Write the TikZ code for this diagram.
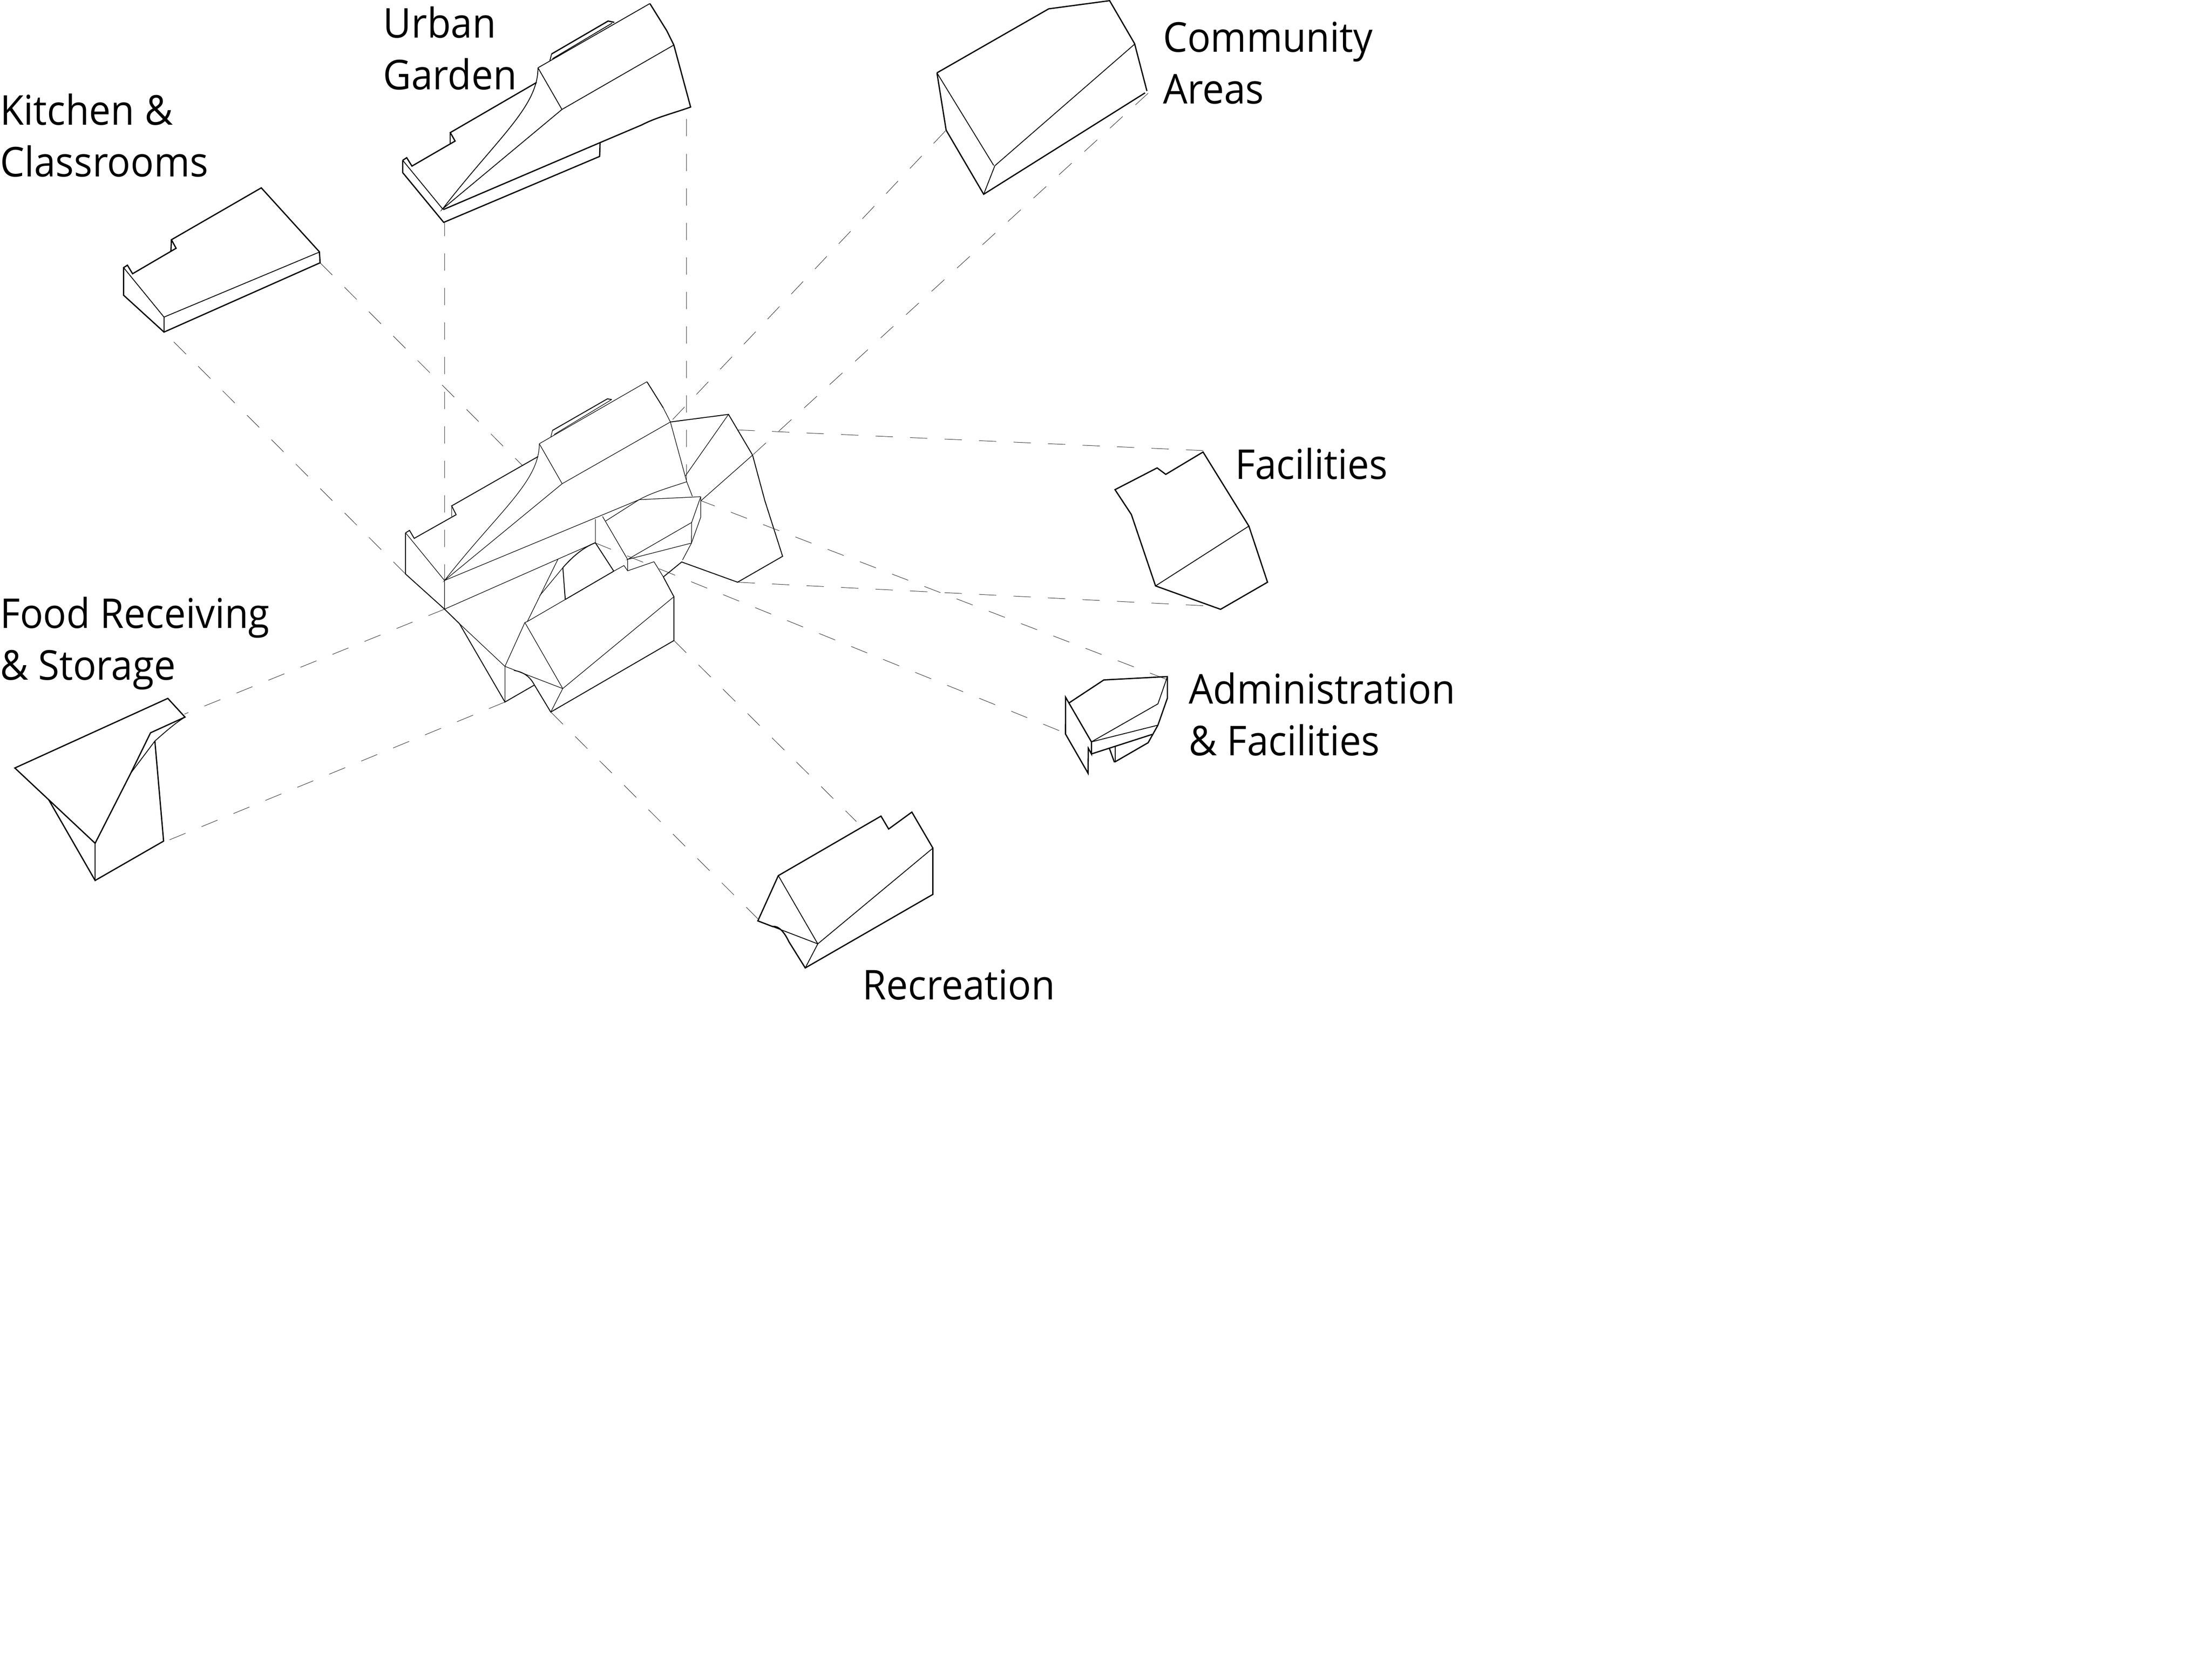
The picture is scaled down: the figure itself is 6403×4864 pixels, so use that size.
\documentclass[tikz,border=0pt]{standalone}
\usepackage{fontspec}
\setmainfont[FakeStretch=0.94]{Open Sans}
\tikzset{
  x=0.1pt,y=-0.1pt,
  heavy/.style={line width=0.36pt,line join=miter,draw=black},
  light/.style={line width=0.24pt,line join=miter,draw=black},
  mheavy/.style={line width=0.26pt,line join=miter,draw=black},
  mlight/.style={line width=0.16pt,line join=miter,draw=black},
  conn/.style={line width=0.13pt,draw=black!80,dash pattern=on 5pt off 5pt},
  lab/.style={font=\fontsize{11.9}{15}\selectfont,inner sep=0pt,outer sep=0pt,align=left,anchor=base west,text=black},
}
\begin{document}
\begin{tikzpicture}
\useasboundingbox (0,0) rectangle (6403,4864);
% ---------- connector ends
\coordinate (kitA) at (927,761);       \coordinate (mainKitA) at (1513,1348);
\coordinate (kitB) at (475,961.7);     \coordinate (mainKitB) at (1174.6,1662.4);
\coordinate (urbA) at (1287.4,645);    \coordinate (mainUrbA) at (1287.4,1684);
\coordinate (urbB) at (1988.7,345);    \coordinate (mainUrbB) at (1988.7,1395);
\coordinate (comA) at (3325,270);      \coordinate (mainComA) at (2179.4,1318);
\coordinate (comB) at (2738,379);      \coordinate (mainComB) at (1941.4,1222);
\coordinate (facA) at (3484.8,1304.8); \coordinate (mainFacA) at (2136,1245);
\coordinate (facB) at (3484.8,1754);   \coordinate (mainFacB) at (2136,1686);
\coordinate (admA) at (3377,1967);     \coordinate (mainAdmA) at (2030,1450);
\coordinate (admB) at (3068,2116);     \coordinate (mainAdmB) at (1723.4,1572);
\coordinate (recA) at (2480,2379);     \coordinate (mainRecA) at (1952,1855);
\coordinate (recB) at (2194.7,2660.7); \coordinate (mainRecB) at (1595,2062);
\coordinate (fooA) at (534,2068);      \coordinate (mainFooA) at (1287.4,1764);
\coordinate (fooB) at (491,2432);      \coordinate (mainFooB) at (1462.3,2033);
% ---------- connectors
\draw[conn] (kitA) -- (mainKitA);
\draw[conn] (mainKitB) -- (kitB);
\draw[conn] (mainUrbA) -- (urbA);
\draw[conn] (mainUrbB) -- (urbB);
\draw[conn] (comA) -- (mainComA);
\draw[conn] (comB) -- (mainComB);
\draw[conn] (mainFacA) -- (facA);
\draw[conn] (mainFacB) -- (facB);
\draw[conn] (admA) -- (mainAdmA);
\draw[conn] (mainAdmB) -- (admB);
\draw[conn] (mainRecA) -- (recA);
\draw[conn] (mainRecB) -- (recB);
\draw[conn] (mainFooA) -- (fooA);
\draw[conn] (mainFooB) -- (fooB);
% ---------- Kitchen & Classrooms
\draw[heavy] (358,775) -- (369,768) -- (384,792.7) -- (510,719) -- (496.4,694.3) -- (756.7,544) -- (925,729.3) -- (927,761) -- (475,961.7) -- (358,855) -- cycle;
\draw[heavy] (496.4,694.3) -- (495,727.3);
\draw[light] (358,775) -- (475,918.3) -- (925,730);
\draw[light] (475,918.3) -- (475,961.7);
% ---------- Urban Garden
\draw[heavy] (1166.3,464.3) -- (1177.8,456.7) -- (1193,481) -- (1318,408.5) -- (1304,384) -- (1554,238.8);
\draw[light] (1304,384) -- (1304,416);
\draw[heavy] (1166.3,464.3) -- (1166.3,500) -- (1285,644) -- (1736.5,453) -- (1737.8,413);
\draw[heavy] (1283.7,607) -- (1737.8,413) -- (1859,361.6) .. controls (1900,340) and (1950,328) .. (2000,310) -- (1951.4,130.4) -- (1931,89) -- (1882,10.3);
\draw[light] (1166.3,464.3) -- (1281.8,605);
\draw[light] (1558,196.4) .. controls (1558,310) and (1440,400) .. (1281.8,605) -- (1627.4,317) -- (1558,196.4);
\draw[light] (1627.4,317) -- (1951.4,130.4);
\draw[light] (1558,196.4) -- (1882,10.3);
\draw[light] (1592.3,176.3) -- (1597.4,156.3);
\draw[heavy] (1597.4,156.3) -- (1761,61) -- (1779,64.7);
\draw[light] (1600,170) -- (1772.8,67);
% ---------- Community Areas
\draw[heavy] (2713.4,211) -- (3037,25.6) -- (3213.4,2) -- (3285.7,126.3) -- (3321.4,263.3);
\draw[heavy] (3316,269) -- (2848.7,562.6) -- (2740,377) -- (2713.4,211);
\draw[light] (2713.4,211) -- (2877.7,479);
\draw[light] (3285.7,128) -- (2881,480) -- (2848.7,562.6);
% ---------- Facilities
\draw[heavy] (3484,1309) -- (3376,1373.7) -- (3351,1355) -- (3229,1418) -- (3276.4,1490) -- (3346.4,1696.7) -- (3534.7,1764.5) -- (3670.7,1686) -- (3616.7,1523.5) -- cycle;
\draw[light] (3346.4,1696.7) -- (3616.7,1523.5);
% ---------- Administration & Facilities
\draw[heavy] (3096.7,2035) -- (3196.7,1969) -- (3380.7,1959.3) -- (3380.7,2021.7) -- (3353.3,2100) -- (3325,2150.7) -- (3230,2205.7) -- (3226.7,2205.7) -- (3212.3,2166);
\draw[light] (3230,2205.7) -- (3230,2160);
\draw[heavy] (3160.7,2183.3) -- (3336.7,2126.7);
\draw[heavy] (3160.7,2183.3) -- (3160.7,2148.3) -- (3086,2019.3) -- (3085.7,2125.7) -- (3151,2239.3) -- (3151.7,2166.7) -- cycle;
\draw[light] (3160.7,2148.3) -- (3353.3,2038.3) -- (3380.7,1959.3);
\draw[light] (3160.7,2148.3) -- (3353.3,2100);
% ---------- Recreation
\draw[heavy] (2254,2535.7) -- (2551.3,2363.3) -- (2573.5,2400.7) -- (2640.7,2351.7) -- (2701.6,2456) -- (2701.6,2590) -- (2332,2803) -- (2284.4,2726.7) .. controls (2272,2700) and (2255,2680) .. (2237,2683) -- (2194.7,2666.7) -- cycle;
\draw[light] (2254,2535.7) -- (2368.3,2733.3) -- (2701.6,2456);
\draw[light] (2368.3,2733.3) -- (2332,2803);
\draw[light] (2194.7,2666.7) -- (2368.3,2733.3);
% ---------- Food Receiving & Storage
\draw[heavy] (43,2224) -- (486,2022.4) -- (535.8,2076.6) -- (436,2122) -- (379,2238.4) -- (275.5,2442) -- cycle;
\draw[heavy] (140.5,2315) -- (275.5,2549.7) -- (473.8,2435.7) -- (448.5,2146);
\draw[light] (275.5,2442) -- (275.5,2549.7);
\draw[light] (379,2238.4) -- (448.5,2146) .. controls (480,2118) and (510,2092) .. (535.8,2076.6);
% ---------- Main building
\draw[mheavy] (1174.6,1543) -- (1186,1536) -- (1199.5,1559) -- (1321,1490.5) -- (1308,1465) -- (1558.4,1322);
\draw[mlight] (1308,1465) -- (1308,1495.5);
\draw[mheavy] (1174.6,1543) -- (1174.6,1662.4) -- (1287.4,1764) -- (1330.5,1806) -- (1462.3,2033) -- (1547.7,1983.7);
\draw[mlight] (1174.6,1543) -- (1287.4,1681) -- (1287.4,1764);
\draw[mlight] (1561.8,1285) .. controls (1561.8,1395) and (1445,1480) .. (1287.4,1681) -- (1628,1400.8) -- (1561.8,1285);
\draw[mlight] (1628,1400.8) -- (1941.4,1222);
\draw[mlight] (1561.8,1285) -- (1873.5,1105.4);
\draw[mlight] (1595,1266) -- (1600,1246.4);
\draw[mheavy] (1600,1246.4) -- (1759,1155) -- (1771.5,1157);
\draw[mlight] (1605,1258) -- (1771.5,1157);
\draw[mheavy] (1873.5,1105.4) -- (1920.7,1181);
\draw[mlight] (1920.7,1181) -- (1941.4,1222) -- (1988.7,1395) -- (2005,1437);
\draw[mlight] (1287.4,1681) -- (1851,1447) .. controls (1890,1425) and (1945,1410) .. (1988.7,1395);
\draw[mlight] (1287.4,1764) -- (1616,1619) -- (1724,1571.7);
\draw[mlight] (1330.5,1806) -- (1462.3,1929.7) -- (1462.3,2033);
% entrance block
\draw[mlight] (1724,1503) -- (1724,1571.7);
\draw[mlight] (1745,1495.7) -- (1817.6,1620) -- (1817.6,1653);
\draw[mlight] (1753.7,1509) -- (1851,1447) -- (2029.3,1438.3);
\draw[mlight] (2029.3,1438.3) -- (2003,1513) -- (2002.5,1572.7) -- (1817.6,1620) -- (2003,1513);
\draw[mlight] (2029.3,1438.3) -- (2029.3,1497.7) -- (2002.5,1572.7) -- (1976.5,1621.7);
\draw[mheavy] (1630,1644) .. controls (1660,1610) and (1690,1585) .. (1724,1571.7) -- (1777.5,1654);
\draw[mheavy] (1630,1644) -- (1637,1736);
\draw[mlight] (1563,1725) -- (1630,1644);
% front block
\draw[mlight] (1527,1800) -- (1637,1736);
\draw[mheavy] (1637,1736) -- (1777.5,1654);
\draw[mlight] (1777.5,1654) -- (1807,1637.7) -- (1817.6,1653) -- (1894,1626.7) -- (1921,1670.7);
\draw[mheavy] (1921,1670.7) -- (1951.6,1728) -- (1951.6,1855) -- (1595,2062) -- (1547.7,1983.7) .. controls (1530,1950) and (1505,1945) .. (1488,1941);
\draw[mlight] (1527,1800) -- (1616,1619);
\draw[mlight] (1520,1802.7) -- (1527,1800);
\draw[mlight] (1462.3,1929.7) -- (1520,1802.7) -- (1629.7,1994) -- (1951.6,1728);
\draw[mlight] (1462.3,1929.7) -- (1629.7,1994) -- (1595,2062);
% facilities wing
\draw[mheavy] (1941.4,1222) -- (2109.7,1200) -- (2179.4,1318) -- (2215,1450) -- (2266.4,1611) -- (2136,1686) -- (1973,1627);
\draw[mheavy] (1974.6,1627) -- (1921,1670.7);
\draw[mlight] (2109.7,1200) -- (1983.7,1379.7);
\draw[mlight] (2179.4,1318) -- (2030,1450);
% ---------- Labels
\node[lab] (lblUrban) at (1110,259) {Urban\\Garden};
\node[lab] (lblKitchen) at (0,512) {Kitchen \&\\Classrooms};
\node[lab] (lblFood) at (0,1969) {Food Receiving\\\& Storage};
\node[lab] (lblCommunity) at (3368,300) {Community\\Areas};
\node[lab] (lblFacilities) at (3577,1387) {Facilities};
\node[lab] (lblAdmin) at (3443,2188) {Administration\\\& Facilities};
\node[lab] (lblRecreation) at (2498,2895) {Recreation};
\end{tikzpicture}
\end{document}
